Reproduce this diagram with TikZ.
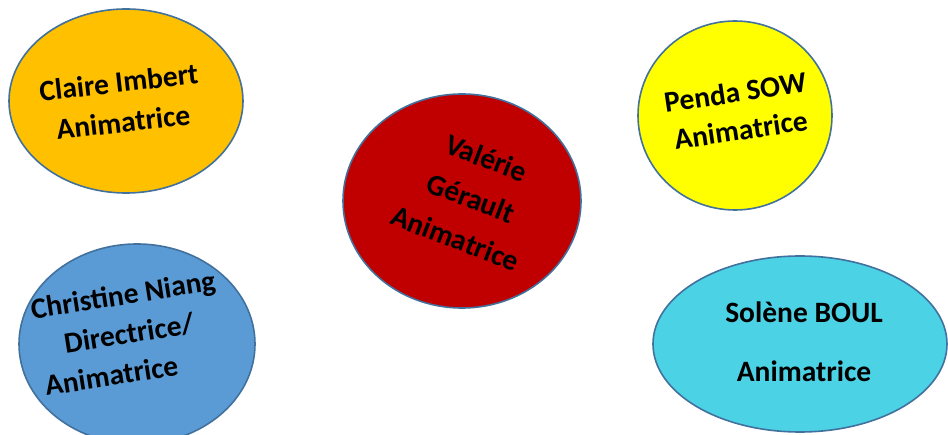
\documentclass[tikz,border=0pt]{standalone}
\usepackage{fontspec}
\setmainfont{Carlito}
\usetikzlibrary{shapes.geometric}
\definecolor{cOrange}{HTML}{FFC000}
\definecolor{cRed}{HTML}{C00000}
\definecolor{cYellow}{HTML}{FFFF00}
\definecolor{cBlue}{HTML}{5B9BD5}
\definecolor{cCyan}{HTML}{4BD2E5}
\definecolor{cEdge}{HTML}{41719C}
\tikzset{
  bubble/.style={ellipse, draw=cEdge, line width=1.6pt, inner sep=0pt},
  label/.style={inner sep=0pt, align=center, text=black, font=\bfseries\fontsize{29.5}{40}\selectfont}
}
\begin{document}
\begin{tikzpicture}[x=1pt,y=-1pt]
\useasboundingbox (0,0) rectangle (948,435);
\node (claire) [bubble, fill=cOrange, minimum width=234pt, minimum height=184pt] at (126,101) {};
\node (valerie) [bubble, fill=cRed, minimum width=238pt, minimum height=214pt] at (462,201) {};
\node (penda) [bubble, fill=cYellow, minimum width=194pt, minimum height=189pt] at (735,115.5) {};
\node (christine) [bubble, fill=cBlue, minimum width=236pt, minimum height=200pt] at (137,344) {};
\node (solene) [bubble, fill=cCyan, minimum width=294pt, minimum height=176pt] at (800,344) {};

\node (claireT) [label, rotate=6.5] at (121,102) {Claire Imbert\\Animatrice};
\node (valerieT) [label, rotate=-21, font=\bfseries\fontsize{29.5}{43}\selectfont] at (471,198) {Valérie\\Gérault\\Animatrice};
\node (pendaT) [label, rotate=8.5, font=\bfseries\fontsize{29.5}{38}\selectfont] at (738,111) {Penda SOW\\Animatrice};
\node (christineT) [label, rotate=9, font=\bfseries\fontsize{29.5}{39}\selectfont] at (129,333) {Christine Niang\\Directrice/\\Animatrice\hspace*{48pt}};
\node (soleneT) [label, font=\bfseries\fontsize{29.5}{59}\selectfont] at (804,341.5) {Solène BOUL\\Animatrice};
\end{tikzpicture}
\end{document}
